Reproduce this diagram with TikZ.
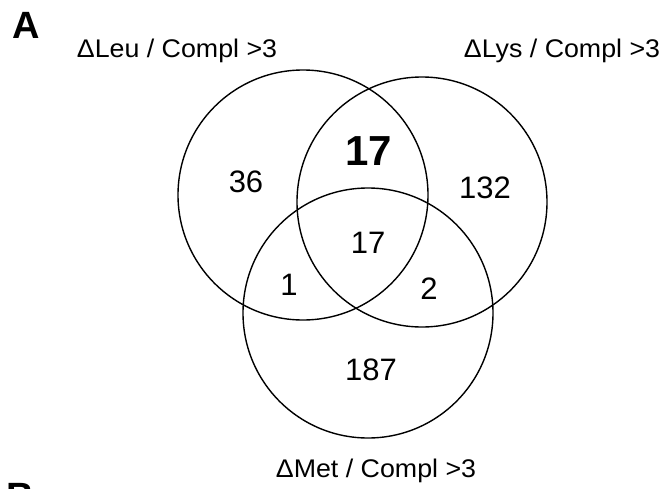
\documentclass[tikz,border=0pt]{standalone}
\usepackage{fontspec}
\usepackage{graphicx}
\setmainfont{Liberation Sans}
\newcommand{\widetext}[1]{\scalebox{1.05}[1]{#1}}
\tikzset{
  venn/.style={draw=black, line width=1.4pt},
  setlabel/.style={anchor=base, inner sep=0pt, font=\fontsize{25.5}{28}\selectfont},
  count/.style={anchor=base, inner sep=0pt, font=\fontsize{31}{34}\selectfont},
  boldcount/.style={anchor=base, inner sep=0pt, font=\fontsize{42}{46}\selectfont\bfseries},
  panel/.style={anchor=base west, inner sep=0pt, font=\fontsize{38}{42}\selectfont\bfseries}
}
\begin{document}
\begin{tikzpicture}[x=1pt, y=-1pt]
\useasboundingbox (0,0) rectangle (666,488);
\clip (0,0) rectangle (666,488);
\fill[white] (0,0) rectangle (666,488);
% circles
\draw[venn] (303,195) circle[radius=125];
\draw[venn] (422,202) circle[radius=125];
\draw[venn] (368,313) circle[radius=125];
% panel letters
\node[panel] (A) at (12,38) {A};
\node[panel] (B) at (6,509) {B};
% set labels
\node[setlabel] (leu) at (177,57) {\widetext{ΔLeu / Compl >3}};
\node[setlabel] (lys) at (562,57) {\widetext{ΔLys / Compl >3}};
\node[setlabel] (met) at (376,477) {\widetext{ΔMet / Compl >3}};
% counts
\node[count] (n36) at (246,192) {36};
\node[boldcount] (n17b) at (369,165) {17};
\node[count] (n132) at (485,198) {132};
\node[count] (n17) at (368,253) {17};
\node[count] (n1) at (289,295) {1};
\node[count] (n2) at (429,299) {2};
\node[count] (n187) at (371,380) {187};
\end{tikzpicture}
\end{document}
